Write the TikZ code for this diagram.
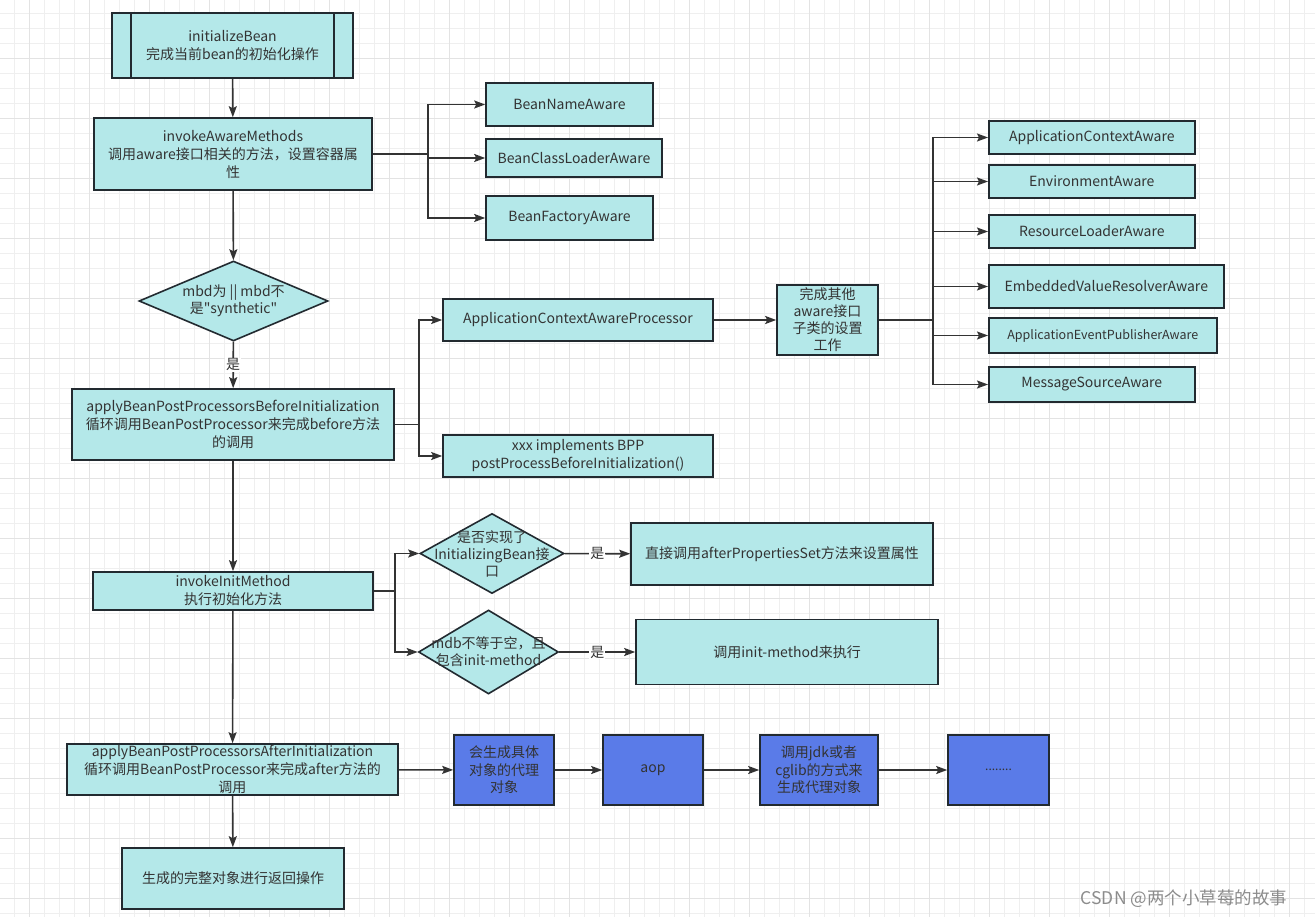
\documentclass[tikz,border=0pt]{standalone}
\usepackage{fontspec}
\setmainfont{Noto Sans CJK SC}
\newfontfamily\qtfont{Noto Sans CJK SC}
\usetikzlibrary{arrows.meta,shapes.geometric}
\begin{document}
\begin{tikzpicture}[x=1pt,y=-1pt,
  mybox/.style={draw=boxline,fill=boxfill,line width=1.6pt,text=txtcol,align=center,inner sep=1pt,font=\fontsize{14}{18}\selectfont},
  bluebox/.style={mybox,fill=proxyblue,minimum width=100,minimum height=70,font=\fontsize{14}{17.5}\selectfont},
  mydec/.style={diamond,draw=boxline,fill=boxfill,line width=1.6pt,inner sep=0pt},
  dectext/.style={text=txtcol,align=center,font=\fontsize{14}{17}\selectfont},
  link/.style={draw=linecol,line width=1.6pt,-{Stealth[length=11pt,width=8pt,inset=2pt]}},
  yes/.style={fill=white,text=txtcol,inner sep=1pt,font=\fontsize{14}{16}\selectfont}]
\definecolor{boxfill}{HTML}{B4E8E9}
\definecolor{proxyblue}{HTML}{5A7BE8}
\definecolor{boxline}{HTML}{222A30}
\definecolor{linecol}{HTML}{333333}
\definecolor{txtcol}{HTML}{333333}
\definecolor{gridminor}{HTML}{EFEFEF}
\definecolor{gridmajor}{HTML}{E3E3E3}
\useasboundingbox (0,0) rectangle (1315,917);
\fill[white] (0,0) rectangle (1315,917);
\foreach \gx in {14,29,...,1314} \draw[gridminor,line width=0.8pt] (\gx,0) -- (\gx,917);
\foreach \gy in {13,28,...,916} \draw[gridminor,line width=0.8pt] (0,\gy) -- (1315,\gy);
\foreach \gx in {29,89,...,1314} \draw[gridmajor,line width=0.8pt] (\gx,0) -- (\gx,917);
\foreach \gy in {58,118,...,916} \draw[gridmajor,line width=0.8pt] (0,\gy) -- (1315,\gy);

% main column
\node[mybox,minimum width=241,minimum height=65] (ib) at (232.5,45.5) {initializeBean\\完成当前bean的初始化操作};
\draw[boxline,line width=1.6pt] ([xshift=20]ib.north west) -- ([xshift=20]ib.south west);
\draw[boxline,line width=1.6pt] ([xshift=-20]ib.north east) -- ([xshift=-20]ib.south east);
\node[mybox,minimum width=278,minimum height=72] (iam) at (233,154) {invokeAwareMethods\\调用aware接口相关的方法，设置容器属\\性};
\node[mydec,minimum width=189,minimum height=80,label={[dectext]center:{mbd为 || mbd不\\是{\qtfont"}synthetic{\qtfont"}}}] (mbd) at (233.5,301) {};
\node[mybox,minimum width=322,minimum height=71] (abpb) at (233,424.5) {applyBeanPostProcessorsBeforeInitialization\\循环调用BeanPostProcessor来完成before方法\\的调用};
\node[mybox,minimum width=280,minimum height=38] (iim) at (233,591) {invokeInitMethod\\执行初始化方法};
\node[mybox,minimum width=331,minimum height=51] (abpa) at (232.5,769.5) {applyBeanPostProcessorsAfterInitialization\\循环调用BeanPostProcessor来完成after方法的\\调用};
\node[mybox,minimum width=222,minimum height=61] (fin) at (233,878.5) {生成的完整对象进行返回操作};

% aware methods
\node[mybox,minimum width=167,minimum height=43] (bna) at (569.5,104.5) {BeanNameAware};
\node[mybox,minimum width=176,minimum height=38] (bcla) at (574,158) {BeanClassLoaderAware};
\node[mybox,minimum width=167,minimum height=44] (bfa) at (569.5,218) {BeanFactoryAware};
\coordinate (jaware) at (428,154);
\draw[link,-] (iam.east) -- (jaware);
\foreach \tgt in {bna,bcla,bfa}
  {\draw[link] (jaware) |- (\tgt.west);}

% before initialization
\node[mybox,minimum width=270,minimum height=42] (acap) at (578,320) {ApplicationContextAwareProcessor};
\node[mybox,minimum width=270,minimum height=42] (xxx) at (578,456) {xxx implements BPP\\postProcessBeforeInitialization()};
\node[mybox,minimum width=101,minimum height=70,font=\fontsize{14}{17}\selectfont] (other) at (827.5,320) {完成其他\\aware接口\\子类的设置\\工作};
\coordinate (jbefore) at (419,424.5);
\draw[link,-] (abpb.east) -- (jbefore);
\draw[link] (jbefore) |- (acap.west);
\draw[link] (jbefore) |- (xxx.west);
\draw[link] (acap) -- (other);
\coordinate (jother) at (933,320);
\draw[link,-] (other.east) -- (jother);
\foreach \nm/\yy/\ww/\hh/\fs/\txt in {aca/137.5/206/33/14/ApplicationContextAware,
    env/181.5/206/33/14/EnvironmentAware,
    rla/231.5/206/33/14/ResourceLoaderAware,
    evra/286.5/235/43/14/EmbeddedValueResolverAware,
    aepa/335.5/228/35/12.5/ApplicationEventPublisherAware,
    msa/384.5/206/35/14/MessageSourceAware}
  {\node[mybox,anchor=west,minimum width=\ww,minimum height=\hh,font=\fontsize{\fs}{16}\selectfont] (\nm) at (988,\yy) {\txt};
   \draw[link] (jother) |- (\nm.west);}

% init method
\node[mydec,minimum width=144,minimum height=80,label={[dectext]center:{是否实现了\\InitializingBean接\\口}}] (dinit) at (492,553.5) {};
\node[mydec,minimum width=140,minimum height=84,label={[dectext]center:{mdb不等于空，且\\包含init-method}}] (dmeth) at (488.5,652) {};
\node[mybox,minimum width=302,minimum height=62] (aps) at (782,554) {直接调用afterPropertiesSet方法来设置属性};
\node[mybox,minimum width=302,minimum height=65] (imeth) at (787,652) {调用init-method来执行};
\coordinate (jinit) at (395,591);
\draw[link,-] (iim.east) -- (jinit);
\draw[link] (jinit) |- (dinit.west);
\draw[link] (jinit) |- (dmeth.west);
\draw[link] (dinit) -- node[yes] {是} (aps);
\draw[link] (dmeth) -- node[yes] {是} (imeth);

% proxy chain
\node[bluebox] (proxy) at (504,770) {会生成具体\\对象的代理\\对象};
\node[bluebox] (aop) at (653,770) {aop};
\node[bluebox,minimum width=118] (jdk) at (819,770) {调用jdk或者\\cglib的方式来\\生成代理对象};
\node[bluebox,minimum width=101,font=\fontsize{12}{14}\selectfont] (more) at (998.5,770) {........};
\draw[link] (abpa) -- (proxy);
\draw[link] (proxy) -- (aop);
\draw[link] (aop) -- (jdk);
\draw[link] (jdk) -- (more);

% main flow
\draw[link] (ib) -- (iam);
\draw[link] (iam) -- (mbd);
\draw[link] (mbd) -- node[yes] {是} (abpb);
\draw[link] (abpb) -- (iim);
\draw[link] (iim) -- (abpa);
\draw[link] (abpa) -- (fin);

\node[text=black!45,font=\fontsize{17.5}{20}\selectfont] (mark) at (1184,899) {CSDN @两个小草莓的故事};
\end{tikzpicture}
\end{document}
